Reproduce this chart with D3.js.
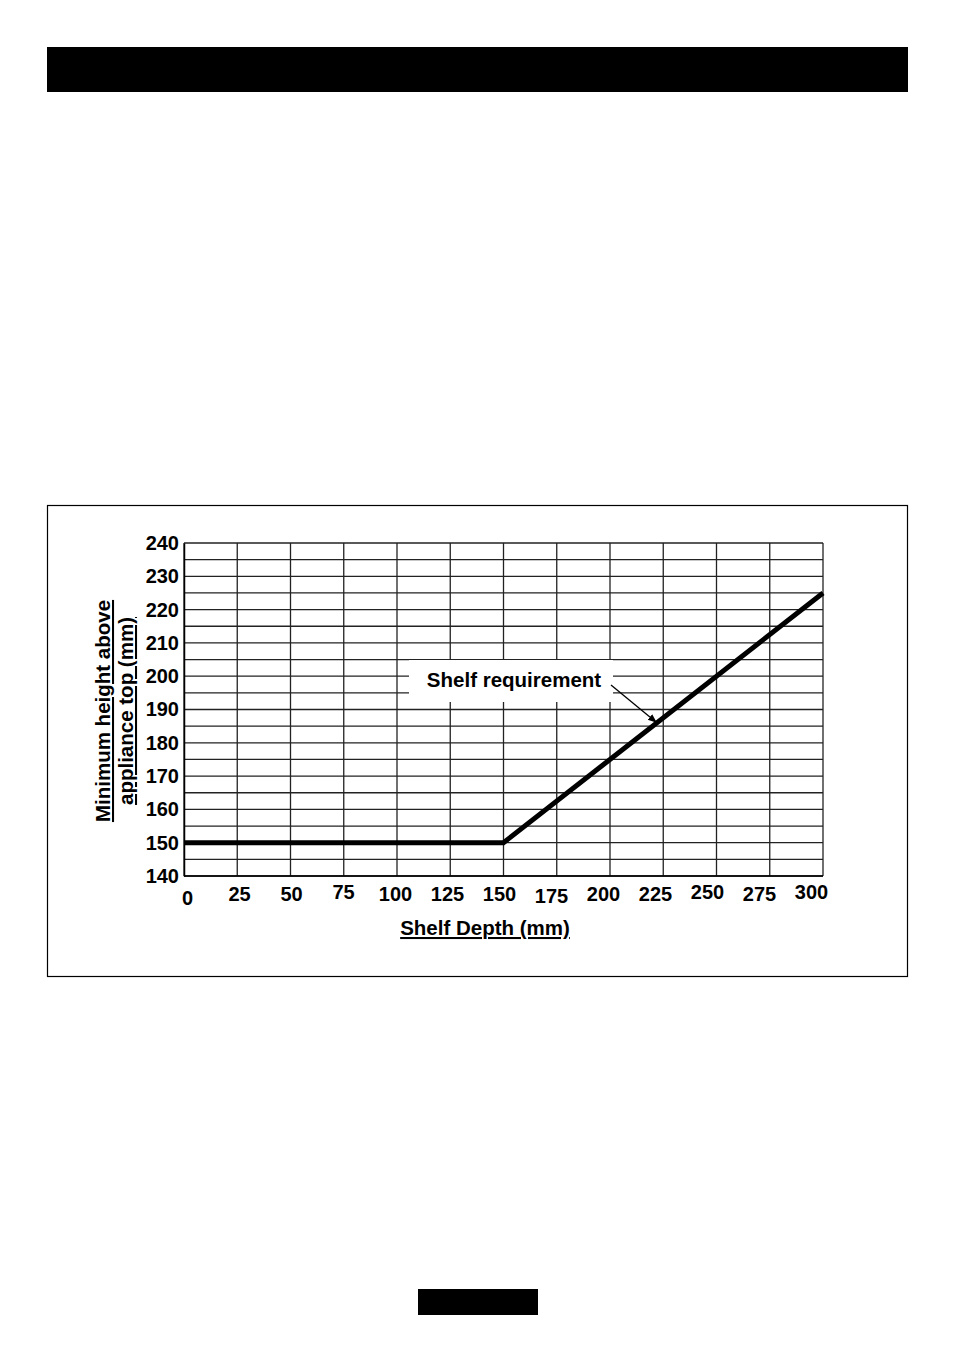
<!DOCTYPE html>
<html>
<head>
<meta charset="utf-8">
<script src="https://cdn.jsdelivr.net/npm/d3@7"></script>
<style>
  body { margin: 0; background: #fff; }
  svg text { font-family: "Liberation Sans", Arial, sans-serif; font-weight: bold; fill: #000; }
</style>
</head>
<body>
<div id="chart"></div>
<script>
'use strict';
// shelf depth (mm) vs minimum height above appliance top (mm)
var depths = [0, 150, 300];
var heights = [150, 150, 225];
var xTicks = [0, 25, 50, 75, 100, 125, 150, 175, 200, 225, 250, 275, 300];
var yTicks = [140, 150, 160, 170, 180, 190, 200, 210, 220, 230, 240];
var yGrid = d3.range(140, 241, 5);
var noteText = 'Shelf requirement';
var notePoint = [222, 186];

var width = 954,
    height = 1351;
var plotLeft = 184, plotRight = 823, plotTop = 543, plotBottom = 876;

var svg = d3.select('#chart').append('svg')
    .attr('width', width)
    .attr('height', height);

// page decorations
svg.append('rect').attr('x', 47).attr('y', 47).attr('width', 861).attr('height', 45).attr('fill', '#000');
svg.append('rect').attr('x', 418).attr('y', 1289).attr('width', 120).attr('height', 26).attr('fill', '#000');
svg.append('rect').attr('x', 47.5).attr('y', 505.5).attr('width', 860).attr('height', 471)
    .attr('fill', 'none').attr('stroke', '#000').attr('stroke-width', 1.2);

var x = d3.scaleLinear().domain([0, 300]).range([plotLeft, plotRight]);
var y = d3.scaleLinear().domain([140, 240]).range([plotBottom, plotTop]);
// printed labels sit a little left of their grid lines
var xLabel = d3.scaleLinear().domain([0, 300]).range([187, 811]);

var grid = svg.append('g').attr('class', 'grid');
grid.selectAll('line.h').data(yGrid).enter().append('line')
    .attr('class', 'h')
    .attr('x1', plotLeft).attr('x2', plotRight)
    .attr('y1', function (d) { return y(d); })
    .attr('y2', function (d) { return y(d); })
    .attr('stroke', '#222').attr('stroke-width', 1.3);
grid.selectAll('line.v').data(xTicks).enter().append('line')
    .attr('class', 'v')
    .attr('y1', plotTop).attr('y2', plotBottom)
    .attr('x1', function (d) { return x(d); })
    .attr('x2', function (d) { return x(d); })
    .attr('stroke', '#222').attr('stroke-width', 1.3);

// y tick labels
var yAxis = svg.append('g')
    .attr('transform', 'translate(' + plotLeft + ',0)')
    .call(d3.axisLeft(y).tickValues(yTicks).tickSize(0).tickPadding(5));
yAxis.select('.domain').attr('stroke', '#000').attr('stroke-width', 1.5);
yAxis.selectAll('text').style('font-size', '20px').style('font-family', '"Liberation Sans", Arial, sans-serif').style('font-weight', 'bold');

// x tick labels
var xAxis = svg.append('g')
    .attr('transform', 'translate(0,' + plotBottom + ')')
    .call(d3.axisBottom(xLabel).tickValues(xTicks).tickSize(0).tickPadding(7));
xAxis.select('.domain').remove();
xAxis.selectAll('text').style('font-size', '20px').style('font-family', '"Liberation Sans", Arial, sans-serif').style('font-weight', 'bold')
    .attr('dy', function (d, i) { return [1.1, 0.92, 0.92, 0.82, 0.92, 0.92, 0.92, 1.0, 0.92, 0.92, 0.82, 0.92, 0.82][i] + 'em'; });
svg.append('line')
    .attr('x1', plotLeft).attr('x2', plotRight).attr('y1', plotBottom).attr('y2', plotBottom)
    .attr('stroke', '#000').attr('stroke-width', 1.5);

// axis titles
svg.append('text')
    .attr('x', 485).attr('y', 935)
    .attr('text-anchor', 'middle')
    .style('font-size', '20.5px')
    .style('text-decoration', 'underline')
    .text('Shelf Depth (mm)');

var yTitle = svg.append('text')
    .attr('transform', 'translate(110,711) rotate(-90)')
    .attr('text-anchor', 'middle')
    .style('font-size', '20.5px')
    .style('text-decoration', 'underline');
yTitle.append('tspan').attr('x', 0).attr('dy', 0).text('Minimum height above');
yTitle.append('tspan').attr('x', 0).attr('dy', 23).text('appliance top (mm)');

// data line
var pts = depths.map(function (d, i) { return [d, heights[i]]; });
svg.append('path')
    .datum(pts)
    .attr('fill', 'none')
    .attr('stroke', '#000')
    .attr('stroke-width', 5)
    .attr('stroke-linejoin', 'miter')
    .attr('d', d3.line()
        .x(function (d) { return x(d[0]); })
        .y(function (d) { return y(d[1]); }));

// annotation
svg.append('rect')
    .attr('x', 409).attr('y', 660).attr('width', 204).attr('height', 42)
    .attr('fill', '#fff');
svg.append('text')
    .attr('x', 514).attr('y', 687)
    .attr('text-anchor', 'middle')
    .style('font-size', '20.5px')
    .text(noteText);

svg.append('defs').append('marker')
    .attr('id', 'arrow')
    .attr('viewBox', '0 0 10 10')
    .attr('refX', 10).attr('refY', 5)
    .attr('markerWidth', 9).attr('markerHeight', 9)
    .attr('markerUnits', 'userSpaceOnUse')
    .attr('orient', 'auto')
    .append('path').attr('d', 'M0,1 L10,5 L0,9 Z').attr('fill', '#000');
svg.append('line')
    .attr('x1', 611).attr('y1', 685)
    .attr('x2', x(notePoint[0])).attr('y2', y(notePoint[1]))
    .attr('stroke', '#000').attr('stroke-width', 1.3)
    .attr('marker-end', 'url(#arrow)');
</script>
</body>
</html>
